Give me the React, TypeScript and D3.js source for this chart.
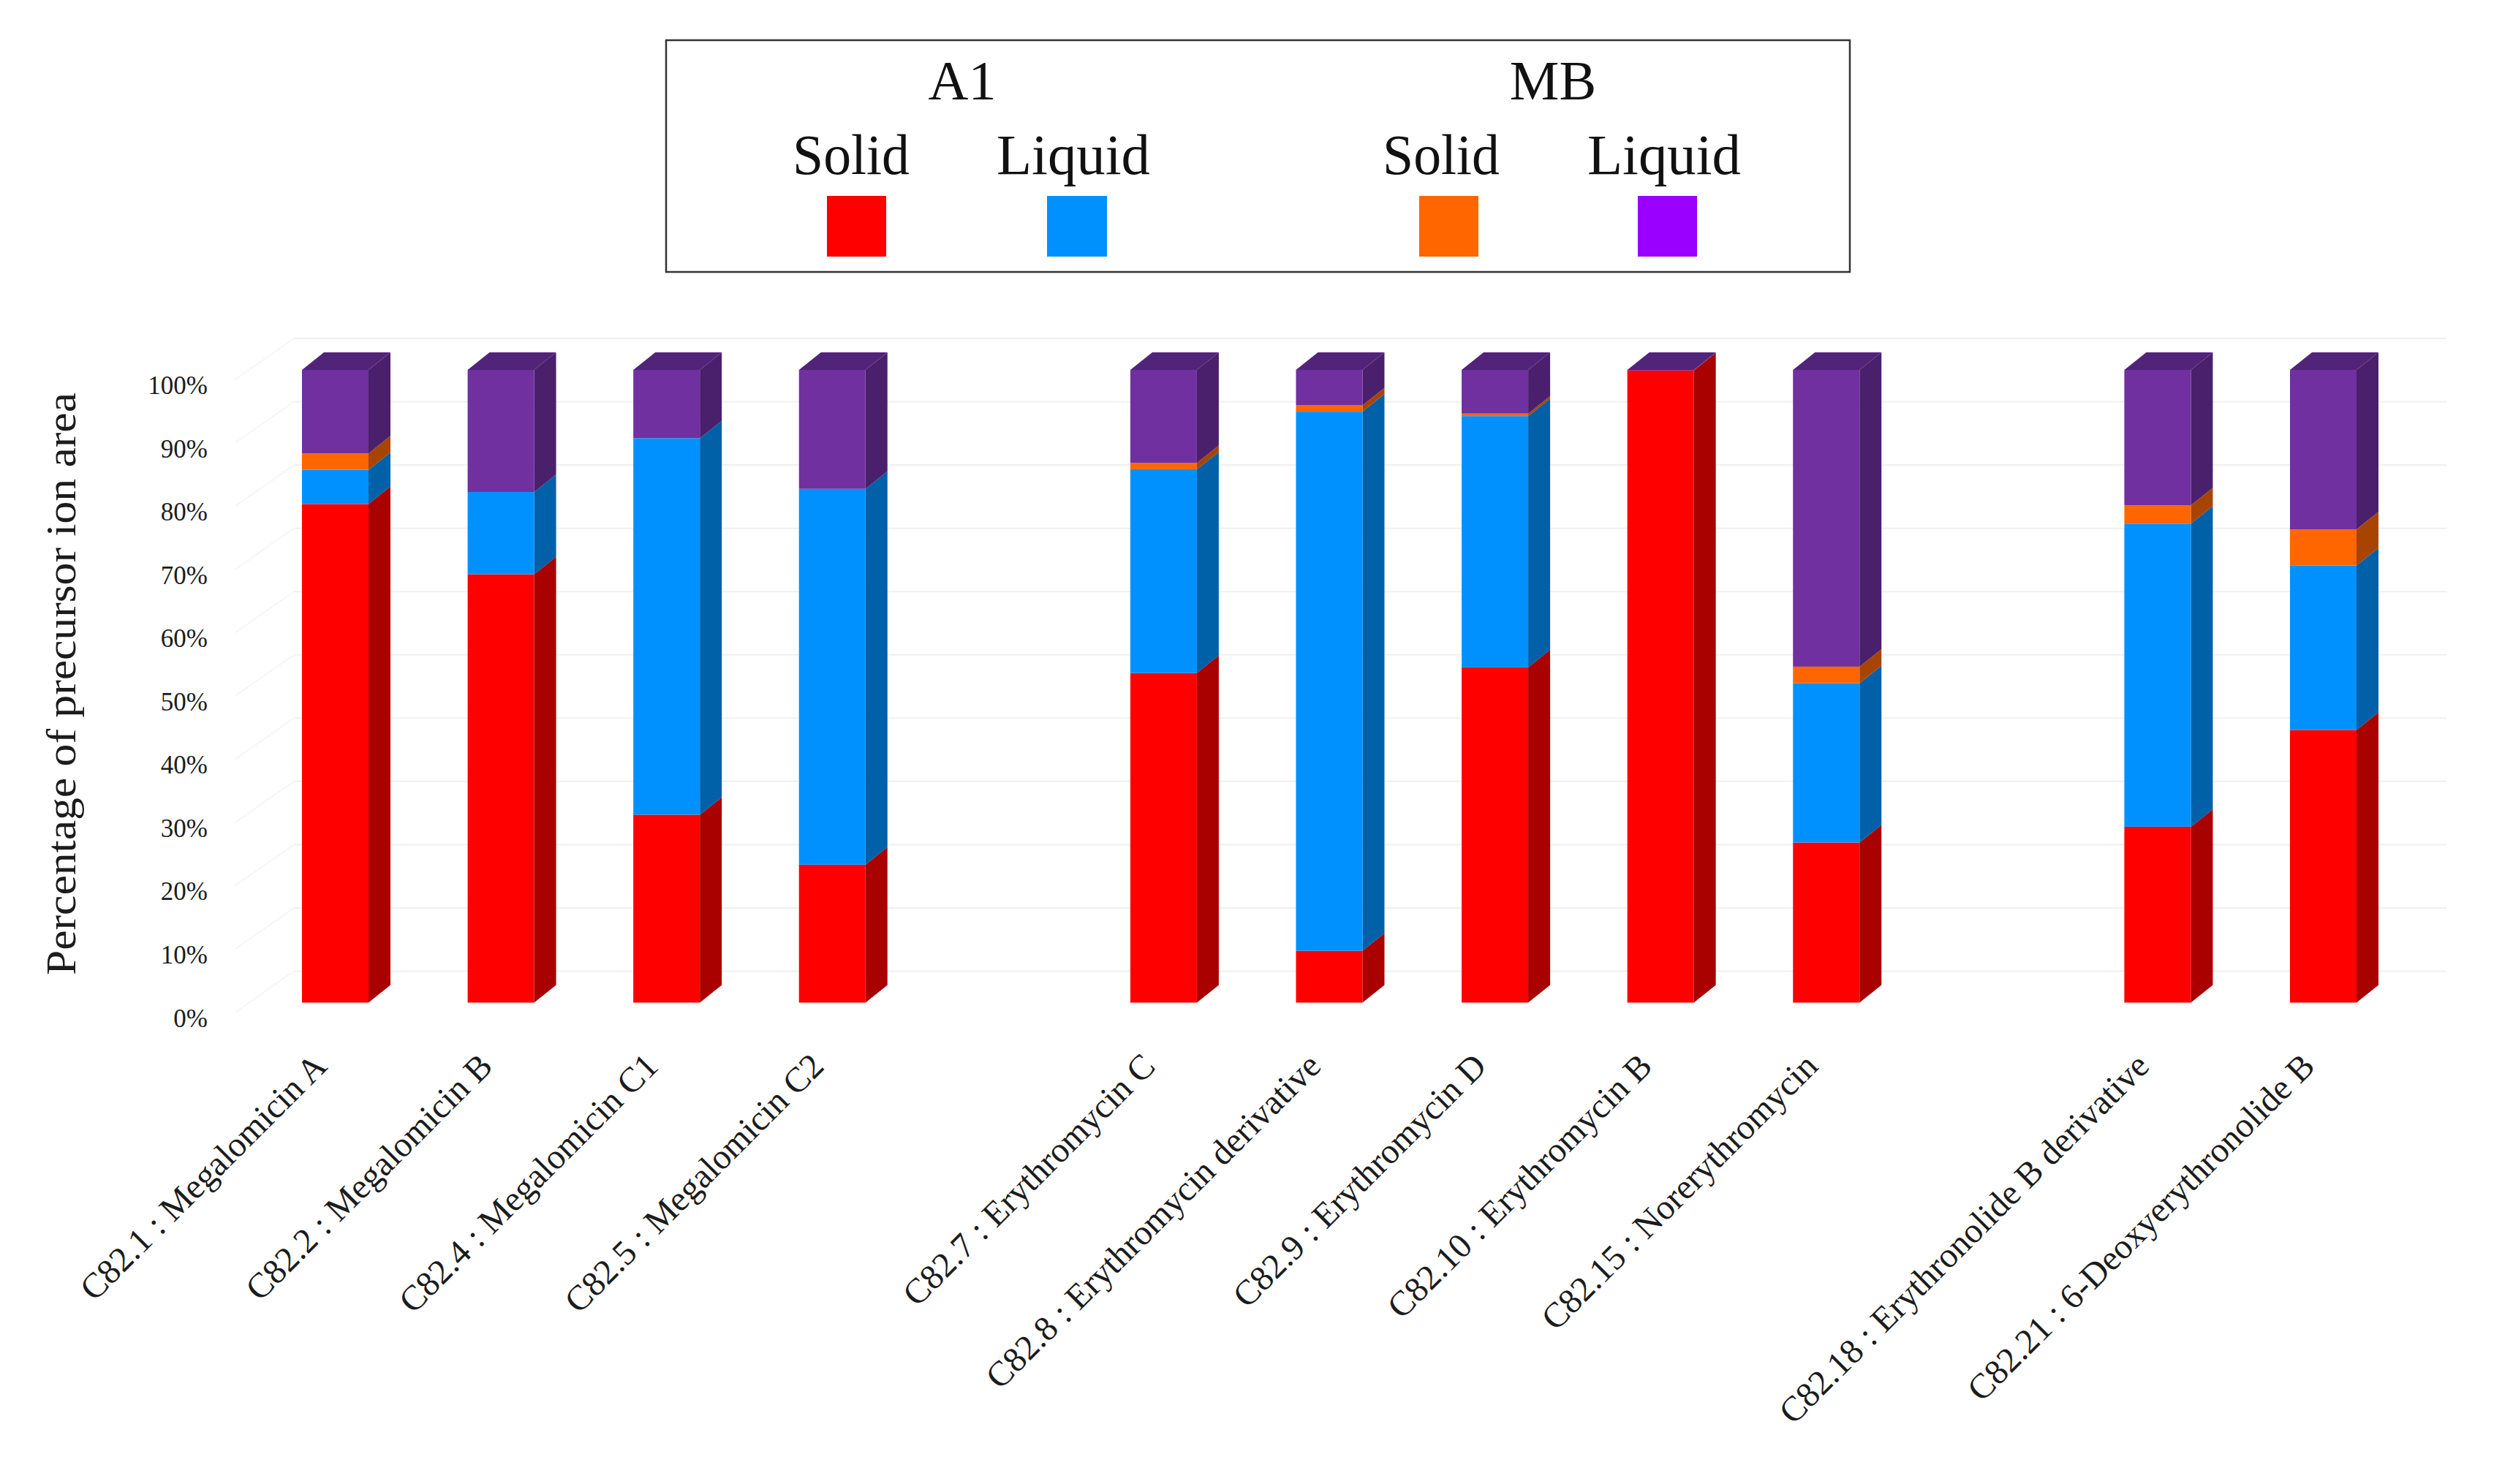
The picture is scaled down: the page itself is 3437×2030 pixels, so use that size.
import React from "react";
import * as d3 from "d3";

// One slot per category; null entries are the blank slots between groups
const categories: (string | null)[] = [
  "C82.1 : Megalomicin A",
  "C82.2 : Megalomicin B",
  "C82.4 : Megalomicin C1",
  "C82.5 : Megalomicin C2",
  null,
  "C82.7 : Erythromycin C",
  "C82.8 : Erythromycin derivative",
  "C82.9 : Erythromycin D",
  "C82.10 : Erythromycin B",
  "C82.15 : Norerythromycin",
  null,
  "C82.18 : Erythronolide B derivative",
  "C82.21 : 6-Deoxyerythronolide B",
];
const a1Solid = [78.8, 67.7, 29.7, 21.8, 0, 52.1, 8.2, 53.0, 99.9, 25.3, 0, 27.8, 43.1];
const a1Liquid = [5.4, 13.0, 59.5, 59.4, 0, 32.2, 85.2, 39.7, 0, 25.2, 0, 47.9, 26.0];
const mbSolid = [2.6, 0, 0, 0, 0, 1.0, 1.0, 0.4, 0, 2.6, 0, 2.9, 5.7];
const mbLiquid = [13.2, 19.3, 10.8, 18.8, 0, 14.7, 5.6, 6.9, 0.1, 46.9, 0, 21.4, 25.2];

const seriesKeys = ["a1Solid", "a1Liquid", "mbSolid", "mbLiquid"];
const seriesValues: Record<string, number[]> = { a1Solid, a1Liquid, mbSolid, mbLiquid };
const frontColors = ["#ff0000", "#0091ff", "#ff6600", "#7030a0"];
const sideColors = ["#a90000", "#0060a8", "#a84400", "#4a206c"];
const topColor = "#512479";
const legendColors = ["#ff0000", "#0091ff", "#ff6600", "#9900ff"];
const legendGroups = ["A1", "MB"];
const legendStates = ["Solid", "Liquid"];
const yTicks = d3.range(0, 101, 10);
const yTitle = "Percentage of precursor ion area";

const W = 3437;
const H = 2030;
const FONT = "'Liberation Serif', serif";
const INK = "#1c1c1c";

const x = d3.scaleLinear().domain([0, 12]).range([413, 3132]);
const y = d3.scaleLinear().domain([0, 100]).range([1371.5, 506]);
const BAR_W = 91;
const DX = 30;
const DY = 24;
const WALL_DY = 43;
const FLOOR_DX = 80;
const FLOOR_DY = 56;
const WALL_LEFT = 402;
const WALL_RIGHT = 3346;

const rows = categories.map((_, i) => {
  const r: Record<string, number> = {};
  seriesKeys.forEach((k) => (r[k] = seriesValues[k][i]));
  return r;
});
const stacked = d3.stack<Record<string, number>>().keys(seriesKeys)(rows);
const poly = d3.line<[number, number]>();

const legendSlots = [
  { label: 0, textX: 1164, textLen: 160, swatch: 1131, width: 81 },
  { label: 1, textX: 1468, textLen: 210, swatch: 1432, width: 82 },
  { label: 0, textX: 1971, textLen: 160, swatch: 1941, width: 81 },
  { label: 1, textX: 2276, textLen: 210, swatch: 2240, width: 81 },
];
const legendGroupX = [1316, 2124];

export default function App() {
  return (
    <svg
      width={W}
      height={H}
      viewBox={`0 0 ${W} ${H}`}
      style={{ position: "absolute", left: 0, top: 0, display: "block", background: "#fff" }}
    >
      {/* walls */}
      {yTicks.map((t) => {
        const gy = y(t) - WALL_DY;
        return (
          <g key={t}>
            <line x1={WALL_LEFT} x2={WALL_RIGHT} y1={gy} y2={gy} stroke="#f0f0f0" strokeWidth={2} />
            <line
              x1={WALL_LEFT}
              y1={gy}
              x2={WALL_LEFT - FLOOR_DX}
              y2={gy + FLOOR_DY}
              stroke="#f6f6f6"
              strokeWidth={2}
            />
          </g>
        );
      })}

      {/* bars */}
      {categories.map((c, i) => {
        if (c === null) return null;
        const x0 = x(i);
        const x1 = x0 + BAR_W;
        return (
          <g key={c}>
            {stacked.map((s, si) => {
              const [v0, v1] = s[i];
              if (v1 <= v0) return null;
              return (
                <g key={s.key}>
                  <path
                    d={
                      poly([
                        [x1, y(v0)],
                        [x1 + DX, y(v0) - DY],
                        [x1 + DX, y(v1) - DY],
                        [x1, y(v1)],
                      ]) + "Z"
                    }
                    fill={sideColors[si]}
                  />
                  <rect x={x0} y={y(v1)} width={BAR_W} height={y(v0) - y(v1)} fill={frontColors[si]} />
                </g>
              );
            })}
            <path
              d={
                poly([
                  [x0, y(100)],
                  [x0 + DX, y(100) - DY],
                  [x1 + DX, y(100) - DY],
                  [x1, y(100)],
                ]) + "Z"
              }
              fill={topColor}
            />
          </g>
        );
      })}

      {/* y axis */}
      {yTicks.map((t) => (
        <text
          key={t}
          x={284}
          y={y(t) + 33}
          textAnchor="end"
          fontFamily={FONT}
          fontSize={35}
          fill={INK}
        >
          {t}%
        </text>
      ))}
      <text
        transform={`translate(103,935.5) rotate(-90)`}
        textAnchor="middle"
        fontFamily={FONT}
        fontSize={58}
        textLength={797}
        lengthAdjust="spacingAndGlyphs"
        fill={INK}
      >
        {yTitle}
      </text>

      {/* x labels */}
      {categories.map((c, i) =>
        c === null ? null : (
          <text
            key={c}
            transform={`translate(${x(i) + BAR_W / 2 - 9},1461) rotate(-45)`}
            textAnchor="end"
            fontFamily={FONT}
            fontSize={48}
            fill={INK}
          >
            {c}
          </text>
        )
      )}

      {/* legend */}
      <rect x={911} y={55} width={1619} height={317} fill="none" stroke="#333" strokeWidth={2.5} />
      {legendGroups.map((g, i) => (
        <text
          key={g}
          x={legendGroupX[i]}
          y={136}
          textAnchor="middle"
          fontFamily={FONT}
          fontSize={76}
          fill="#111"
        >
          {g}
        </text>
      ))}
      {legendSlots.map((s, i) => (
        <g key={i}>
          <text
            x={s.textX}
            y={238}
            textAnchor="middle"
            fontFamily={FONT}
            fontSize={78}
            textLength={s.textLen}
            lengthAdjust="spacingAndGlyphs"
            fill="#111"
          >
            {legendStates[s.label]}
          </text>
          <rect x={s.swatch} y={268} width={s.width} height={83} fill={legendColors[i]} />
        </g>
      ))}
    </svg>
  );
}
